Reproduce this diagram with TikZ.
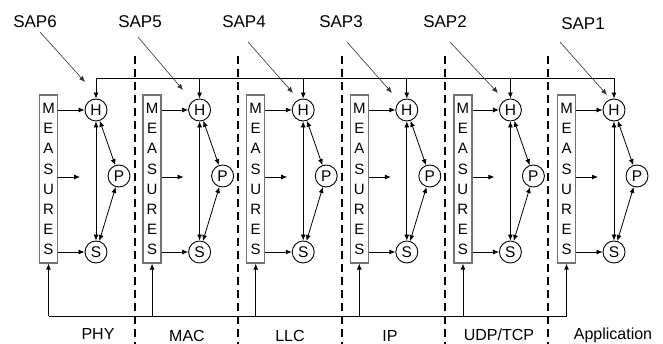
\documentclass[tikz,border=0pt]{standalone}
\usepackage{fontspec}
\setmainfont{Liberation Sans}
\usetikzlibrary{arrows.meta}
\begin{document}
\begin{tikzpicture}[x=1pt,y=-1pt,
  arr/.style={-{Latex[length=6pt,width=5pt]}, line width=0.8pt},
  saparr/.style={-{Latex[length=6pt,width=5pt]}, line width=0.6pt, draw=black!80},
  darr/.style={{Latex[length=6pt,width=5pt]}-{Latex[length=6pt,width=5pt]}, line width=0.8pt},
  meas/.style={draw=black!55, line width=1.3pt, minimum width=18pt, minimum height=168pt, inner sep=0pt, align=center, font=\fontsize{15}{20.1}\selectfont},
  ent/.style={circle, draw, line width=0.9pt, minimum size=22pt, inner sep=0pt, font=\fontsize{15.5}{15.5}\selectfont},
  sapl/.style={font=\fontsize{17}{17}\selectfont, anchor=base},
  layl/.style={font=\fontsize{16}{16}\selectfont, anchor=base},
  sep/.style={line width=2.2pt, dash pattern=on 8pt off 5pt}]
\useasboundingbox (0,0) rectangle (663,344);
\coordinate (top) at (0,78);
\coordinate (bot) at (0,316);
% layer separators
\foreach \x in {135,238.3,341.6,445,548} \draw[sep] (\x,56) -- (\x,344);
% columns
\foreach \k in {0,...,5} {
  \pgfmathsetmacro\bx{48.5+103.6*\k}
  \pgfmathsetmacro\hx{96+103.6*\k}
  \node[meas] (m\k) at (\bx,179) {M\\E\\A\\S\\U\\R\\E\\S};
  \node[ent] (h\k) at (\hx,110) {H};
  \node[ent] (p\k) at (\hx+23,176) {P};
  \node[ent] (s\k) at (\hx,252) {S};
  \coordinate (mid\k) at (\hx-16,177);
  \draw[arr] (m\k.east |- h\k) -- (h\k);
  \draw[arr] (m\k.east |- mid\k) -- (mid\k);
  \draw[arr] (m\k.east |- s\k) -- (s\k);
  \draw[darr] (h\k) -- (s\k);
  \draw[darr] (h\k) -- (p\k);
  \draw[darr] (p\k) -- (s\k);
  \draw[arr] (h\k |- top) -- (h\k);
  \draw[arr] (m\k |- bot) -- (m\k);
}
\draw[line width=0.8pt] (h0 |- top) -- (h5 |- top);
\draw[line width=0.8pt] (m0 |- bot) -- (m5 |- bot);
% SAP labels
\node[sapl] (sap6) at (35,28) {SAP6};
\node[sapl] (sap5) at (140,28) {SAP5};
\node[sapl] (sap4) at (244,28) {SAP4};
\node[sapl] (sap3) at (341,28) {SAP3};
\node[sapl] (sap2) at (445,28) {SAP2};
\node[sapl] (sap1) at (583,30) {SAP1};
\coordinate (a6) at (40,32);  \coordinate (e6) at (85,82);
\coordinate (a5) at (138,37); \coordinate (e5) at (183,90);
\coordinate (a4) at (248,42); \coordinate (e4) at (293,93);
\coordinate (a3) at (347,42); \coordinate (e3) at (392,93);
\coordinate (a2) at (450,42); \coordinate (e2) at (498,93);
\coordinate (a1) at (560,42); \coordinate (e1) at (607,95);
\foreach \i in {1,...,6} \draw[saparr] (a\i) -- (e\i);
% layer labels
\node[layl] (l1) at (98,339) {PHY};
\node[layl] (l2) at (187,341) {MAC};
\node[layl] (l3) at (290,341) {LLC};
\node[layl] (l4) at (390,341) {IP};
\node[layl] (l5) at (499,340) {UDP/TCP};
\node[layl] (l6) at (613,339) {Application};
\end{tikzpicture}
\end{document}
